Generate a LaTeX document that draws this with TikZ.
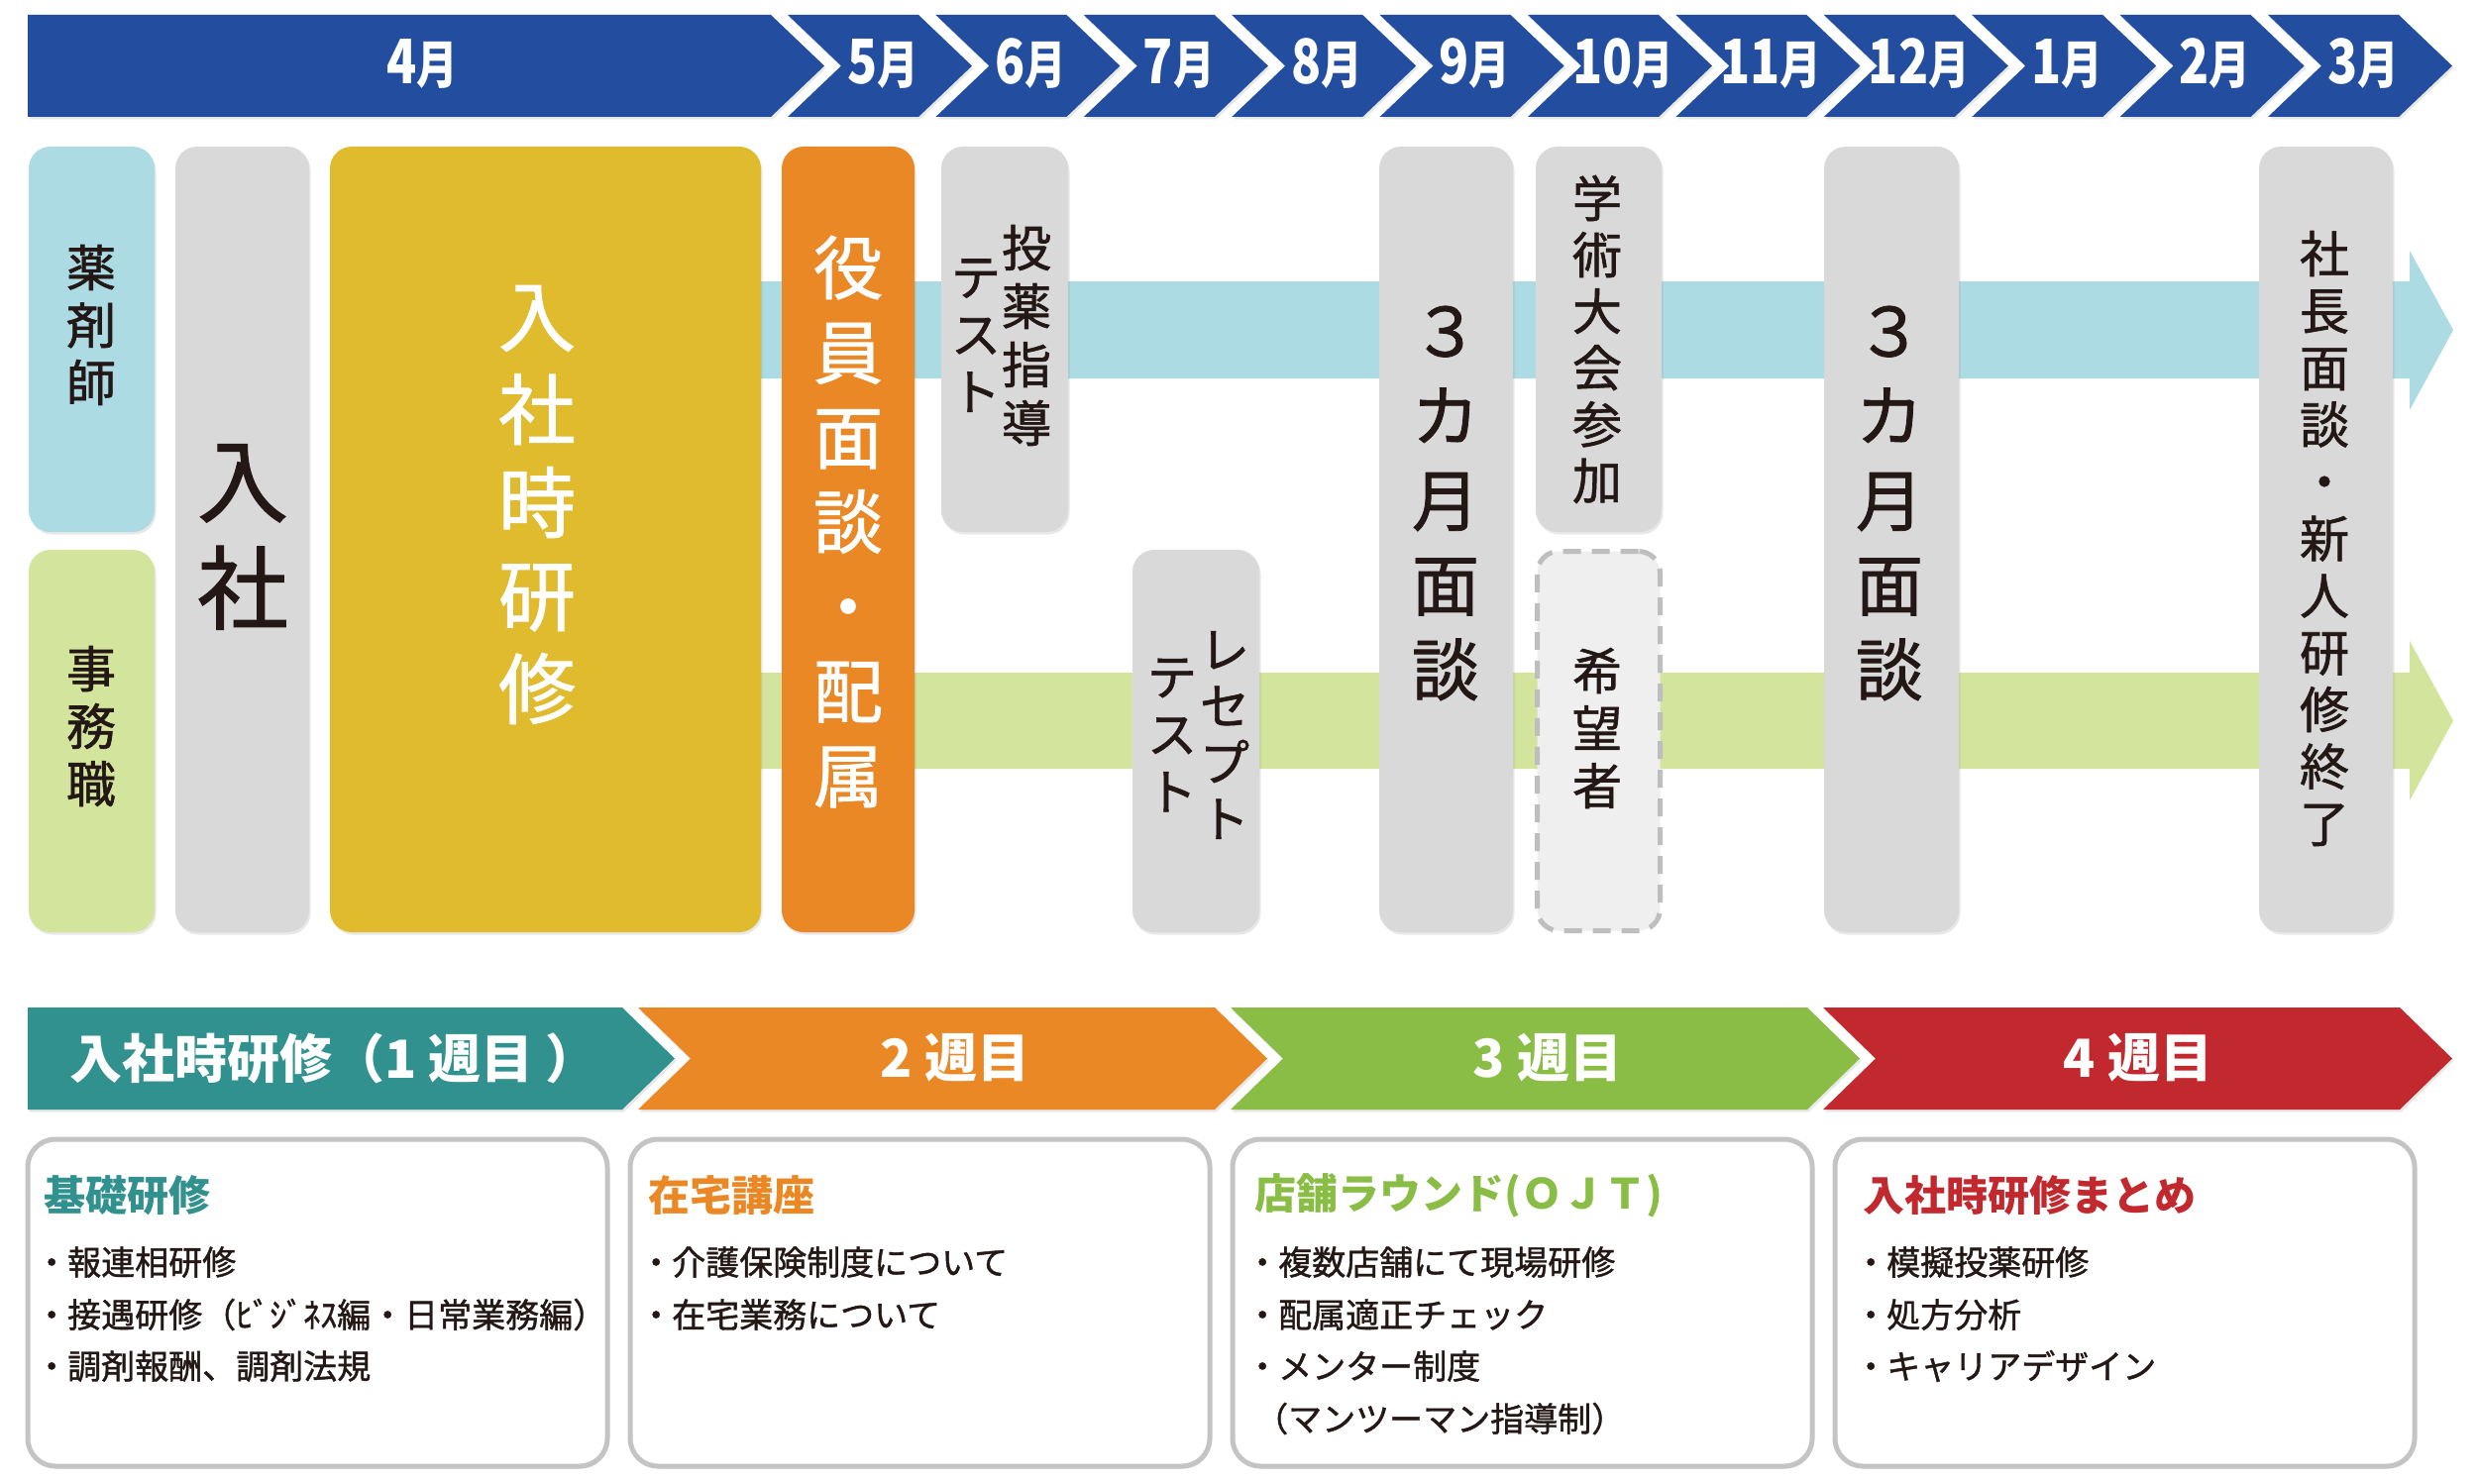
\documentclass[tikz,border=0pt]{standalone}
\usepackage{fontspec}
\setmainfont{Noto Sans CJK JP}
\newfontfamily\jpcond{Noto Sans CJK JP}[FakeStretch=0.8]
\newfontfamily\jpm{Noto Sans CJK JP}[FakeBold=1.2]
\usetikzlibrary{shadows}
\definecolor{mblue}{HTML}{234E9F}
\definecolor{bandc}{HTML}{ACDBE4}
\definecolor{bandg}{HTML}{D3E49D}
\definecolor{boxgray}{HTML}{D9D9D9}
\definecolor{boxyel}{HTML}{E0BB2D}
\definecolor{boxora}{HTML}{EB8826}
\definecolor{wteal}{HTML}{31918F}
\definecolor{wora}{HTML}{EB8826}
\definecolor{wgreen}{HTML}{8ABD45}
\definecolor{wred}{HTML}{C1292E}
\definecolor{ink}{HTML}{231815}
\definecolor{dashfill}{HTML}{EFEFEF}
\definecolor{dashline}{HTML}{BEBEBE}
\definecolor{cardline}{HTML}{C4C4C4}
\newcommand\mon[1]{{\fontsize{62}{62}\selectfont #1}{\fontsize{52}{52}\selectfont 月}}
\newcommand\bl{\makebox[24pt][l]{\hspace{-9pt}・}}
\begin{document}
\begin{tikzpicture}[x=1pt,y=-1pt,
  shd/.style={drop shadow={shadow xshift=1.5pt,shadow yshift=-2.5pt,opacity=0.18}},
  pill/.style={rectangle,rounded corners=22pt,inner sep=0pt,shd},
  vt/.style={inner sep=0pt,align=center,text=ink},
  vtw/.style={inner sep=0pt,align=center,text=white},
  mlab/.style={inner sep=0pt,text=white,font=\jpcond\bfseries},
  wlab/.style={inner sep=0pt,text=white,font=\fontsize{53}{53}\selectfont\bfseries},
  card/.style={rectangle,rounded corners=28pt,draw=cardline,line width=5pt,fill=white,minimum width=585pt,minimum height=330pt,shd},
  hd/.style={inner sep=0pt,anchor=west,font=\fontsize{42}{42}\selectfont\bfseries},
  itm/.style={inner sep=0pt,anchor=west,text=ink,font=\jpm\fontsize{34}{34}\selectfont}
]
\useasboundingbox (0,0) rectangle (2500,1498);
\fill[white] (0,0) rectangle (2500,1498);

% ---- month ribbon ----
\fill[mblue,shd] (28,15) -- (778,15) -- (832,66.5) -- (778,118) -- (28,118) -- cycle;
\node[mlab] (mon4) at (426,64) {\mon{4}};
\foreach \lab [count=\k from 0] in {5,6,7,8,9,10,11,12,1,2,3} {
  \pgfmathsetmacro\xa{795+149.4*\k}
  \fill[mblue,shd] (\xa,15) -- ++(132,0) -- ++(54,51.5) -- ++(-54,51.5) -- ++(-132,0) -- ++(54,-51.5) -- cycle;
  \node[mlab] (mon\lab) at (\xa+96,64) {\mon{\lab}};
}

% ---- background arrows ----
\fill[bandc] (700,284) -- (2432,284) -- (2432,253) -- (2476,333) -- (2432,414) -- (2432,382) -- (700,382) -- cycle;
\fill[bandg] (700,679) -- (2432,679) -- (2432,647) -- (2476,727.5) -- (2432,808) -- (2432,776) -- (700,776) -- cycle;

% ---- boxes ----
\node[pill,fill=bandc,minimum width=127pt,minimum height=389pt] (byaku) at (92.5,342.5) {};
\node[pill,fill=bandg,minimum width=127pt,minimum height=386pt] (bjimu) at (92.5,748) {};
\node[pill,fill=boxgray,minimum width=135pt,minimum height=793pt] (bnyu) at (244.5,544.5) {};
\node[pill,fill=boxyel,minimum width=435pt,minimum height=793pt] (bken) at (550.5,544.5) {};
\node[pill,fill=boxora,minimum width=134pt,minimum height=793pt] (byakuin) at (856,544.5) {};
\node[pill,fill=boxgray,minimum width=128pt,minimum height=389pt] (btoyaku) at (1014,342.5) {};
\node[pill,fill=boxgray,minimum width=128pt,minimum height=386pt] (brece) at (1207,748) {};
\node[pill,fill=boxgray,minimum width=135pt,minimum height=793pt] (bmen1) at (1459.5,544.5) {};
\node[pill,fill=boxgray,minimum width=127pt,minimum height=389pt] (bgaku) at (1613.5,342.5) {};
\node[rectangle,rounded corners=22pt,inner sep=0pt,fill=dashfill,draw=dashline,line width=5pt,dash pattern=on 18pt off 11pt,minimum width=124pt,minimum height=383pt] (bkibo) at (1613.5,748) {};
\node[pill,fill=boxgray,minimum width=136pt,minimum height=793pt] (bmen2) at (1909,544.5) {};
\node[pill,fill=boxgray,minimum width=135pt,minimum height=793pt] (bsha) at (2347.5,544.5) {};

% ---- vertical texts ----
\node[vt,font=\jpm\fontsize{50}{58}\selectfont] (tyaku) at (92,328) {薬\\剤\\師};
\node[vt,font=\jpm\fontsize{50}{58}\selectfont] (tjimu) at (92,733) {事\\務\\職};
\node[vt,font=\jpm\fontsize{92}{108}\selectfont] (tnyu) at (245,542) {入\\社};
\node[vtw,font=\jpm\fontsize{78}{94}\selectfont] (tken) at (542,509.5) {入\\社\\時\\研\\修};
\node[vtw,font=\jpm\fontsize{70}{85.5}\selectfont] (tyakuin) at (856,526.5) {役\\員\\面\\談\\・\\配\\属};
\node[vt,font=\jpm\fontsize{50}{59}\selectfont] (ttoyaku) at (1036,338.5) {投\\薬\\指\\導};
\node[vt,font=\jpm\fontsize{50}{58}\selectfont] (ttest1) at (985,338.5) {テ\\ス\\ト};
\node[vt,font=\jpm\fontsize{50}{57}\selectfont] (trece) at (1236,742) {レ\\セ\\プ\\ト};
\node[vt,font=\jpm\fontsize{50}{58}\selectfont] (ttest2) at (1183,742) {テ\\ス\\ト};
\node[vt,font=\jpm\fontsize{68}{85.5}\selectfont] (tmen1) at (1459,508) {３\\カ\\月\\面\\談};
\node[vt,font=\jpm\fontsize{50}{57}\selectfont] (tgaku) at (1612,342.5) {学\\術\\大\\会\\参\\加};
\node[vt,font=\jpm\fontsize{50}{58}\selectfont] (tkibo) at (1612,735) {希\\望\\者};
\node[vt,font=\jpm\fontsize{68}{85.5}\selectfont] (tmen2) at (1907,508) {３\\カ\\月\\面\\談};
\node[vt,font=\jpm\fontsize{50}{57.5}\selectfont] (tsha) at (2346,543.5) {社\\長\\面\\談\\・\\新\\人\\研\\修\\終\\了};

% ---- week ribbon ----
\fill[wteal,shd] (28,1017) -- (628,1017) -- (681,1068.5) -- (628,1120) -- (28,1120) -- cycle;
\fill[wora,shd] (644,1017) -- ++(582,0) -- ++(53,51.5) -- ++(-53,51.5) -- ++(-582,0) -- ++(53,-51.5) -- cycle;
\fill[wgreen,shd] (1242,1017) -- ++(582,0) -- ++(53,51.5) -- ++(-53,51.5) -- ++(-582,0) -- ++(53,-51.5) -- cycle;
\fill[wred,shd] (1840,1017) -- ++(582,0) -- ++(53,51.5) -- ++(-53,51.5) -- ++(-582,0) -- ++(53,-51.5) -- cycle;
\node[wlab] (w1) at (337,1068) {入社時研修（1 週目\hspace{12pt}）};
\node[wlab] (w2) at (964,1068) {2 週目};
\node[wlab] (w3) at (1562,1068) {3 週目};
\node[wlab] (w4) at (2158,1068) {4 週目};

% ---- cards ----
\node[card] (c1) at (320.5,1315) {};
\node[card] (c2) at (928.5,1315) {};
\node[card] (c3) at (1536.5,1315) {};
\node[card] (c4) at (2144.5,1315) {};

\node[hd,text=wteal] (h1) at (44,1207) {基礎研修};
\node[itm] (i11) at (44,1274) {\bl 報連相研修};
\node[itm] (i12) at (44,1327) {\bl 接遇研修（ﾋﾞｼﾞﾈｽ編・日常業務編）};
\node[itm] (i13) at (44,1379) {\bl 調剤報酬、調剤法規};

\node[hd,text=wora] (h2) at (654,1207) {在宅講座};
\node[itm] (i21) at (654,1274) {\bl 介護保険制度について};
\node[itm] (i22) at (654,1327) {\bl 在宅業務について};

\node[hd,text=wgreen] (h3) at (1266,1207) {店舗ラウンド(ＯＪＴ)};
\node[itm] (i31) at (1266,1274) {\bl 複数店舗にて現場研修};
\node[itm] (i32) at (1266,1327) {\bl 配属適正チェック};
\node[itm] (i33) at (1266,1379) {\bl メンター制度};
\node[itm] (i34) at (1266,1432) {（マンツーマン指導制）};

\node[hd,text=wred] (h4) at (1880,1207) {入社時研修まとめ};
\node[itm] (i41) at (1880,1274) {\bl 模擬投薬研修};
\node[itm] (i42) at (1880,1327) {\bl 処方分析};
\node[itm] (i43) at (1880,1379) {\bl キャリアデザイン};
\end{tikzpicture}
\end{document}
